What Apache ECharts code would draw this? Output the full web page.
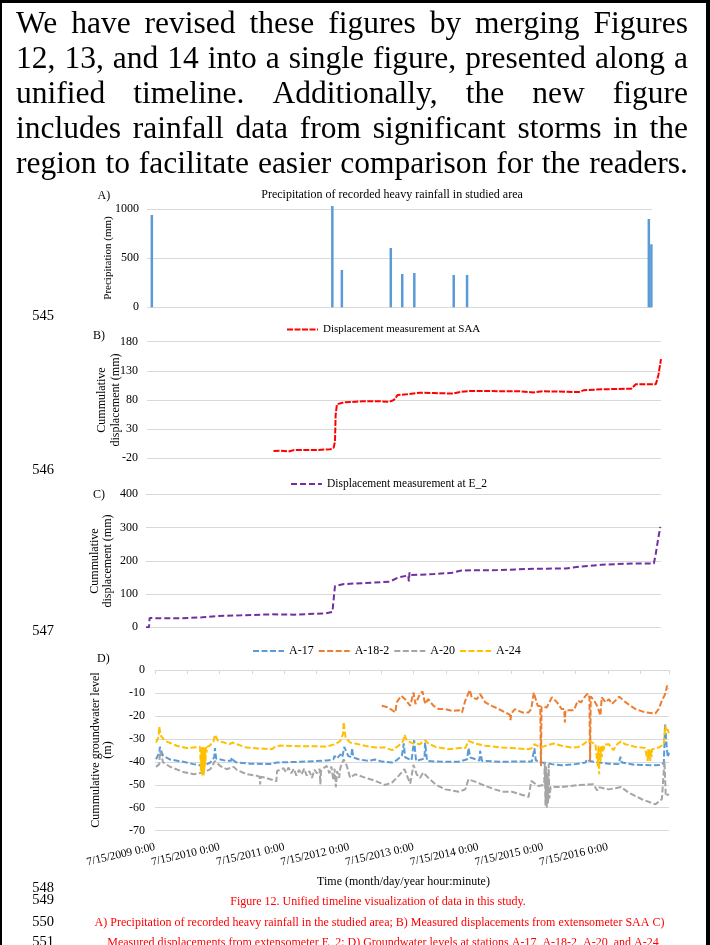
<!DOCTYPE html>
<html>
<head>
<meta charset="utf-8">
<title>Figure 12 - unified timeline</title>
<script src="https://cdn.jsdelivr.net/npm/echarts@6/dist/echarts.min.js"></script>
<style>
  body { margin: 0; background: #fff; }
  #page { position: relative; width: 710px; height: 945px; overflow: hidden; background: #fff; }
  #main { position: absolute; left: 0; top: 0; width: 710px; height: 945px; }
  #para { position: absolute; left: 16px; top: 5px; width: 672px; color: #000;
          font-family: 'Liberation Serif', 'Times New Roman', serif; font-size: 31.5px; line-height: 35px; }
  #para .ln { display: flex; justify-content: space-between; white-space: nowrap; height: 35px; }
  .frame { position: absolute; background: #000; }
</style>
</head>
<body>
<div id="page">
  <div id="main"></div>
  <div id="para"></div>
  <div class="frame" style="left:0;top:0;width:2px;height:945px"></div>
  <div class="frame" style="left:0;top:0;width:710px;height:3px"></div>
  <div class="frame" style="left:706px;top:0;width:4px;height:945px"></div>
</div>
<script>
var SERIF = '"Liberation Serif", "Times New Roman", serif';

// timeline in decimal years, 7/15/2009 .. mid 2017
var X_MIN = 2009.534;
var X_MAX = 2017.48;

var paragraphLines = [
    'We have revised these figures by merging Figures',
    '12, 13, and 14 into a single figure, presented along a',
    'unified timeline. Additionally, the new figure',
    'includes rainfall data from significant storms in the',
    'region to facilitate easier comparison for the readers.'
];

var tickLabels = ['7/15/2009 0:00', '7/15/2010 0:00', '7/15/2011 0:00', '7/15/2012 0:00',
    '7/15/2013 0:00', '7/15/2014 0:00', '7/15/2015 0:00', '7/15/2016 0:00'];

// A) heavy rainfall events [year, mm]
var rainEvents = [[2009.61, 942], [2012.45, 1034], [2012.60, 381], [2013.37, 605], [2013.55, 340],
    [2013.74, 350], [2014.36, 330], [2014.57, 330], [2017.43, 901], [2017.47, 643]];

// B) SAA cumulative displacement (mm)
var saaDisp = [[2011.49, -7.4], [2011.60, -7], [2011.74, -8], [2011.80, -6], [2011.88, -5.7], [2012.16, -5.7],
    [2012.37, -4.6], [2012.42, -1.7], [2012.44, 8.6], [2012.45, 54], [2012.47, 72.6], [2012.50, 75], [2012.58, 76],
    [2012.86, 77.7], [2013.10, 78], [2013.28, 77], [2013.35, 80], [2013.41, 88.6], [2013.55, 89.7], [2013.76, 92.6],
    [2013.97, 92], [2014.25, 91], [2014.39, 94], [2014.53, 95.4], [2015.30, 95], [2015.51, 93], [2015.65, 95],
    [2016.21, 93.7], [2016.28, 96.6], [2016.56, 98.3], [2017.02, 99.4], [2017.09, 107], [2017.40, 107],
    [2017.44, 123], [2017.48, 150]];

// C) E_2 cumulative displacement (mm)
var e2Disp = [[2009.534, 0], [2009.58, 0], [2009.59, 28], [2009.80, 27], [2010.08, 27], [2010.40, 30], [2010.64, 34],
    [2011.00, 36], [2011.47, 39], [2011.82, 38], [2012.31, 42], [2012.41, 46], [2012.45, 124], [2012.59, 130],
    [2012.90, 133], [2013.29, 137], [2013.43, 150], [2013.58, 156], [2013.59, 138], [2013.60, 165], [2013.61, 157],
    [2013.98, 160], [2014.26, 164], [2014.40, 171], [2014.96, 172], [2015.52, 176], [2016.01, 177], [2016.22, 182],
    [2016.56, 188], [2017.05, 192], [2017.37, 192], [2017.40, 222], [2017.44, 270], [2017.47, 302]];

// D) groundwater levels (m)
var gwA17 = [[2009.55, -38.9], [2009.60, -36], [2009.61, -33.5], [2009.64, -36], [2009.66, -37.4], [2009.77, -39],
    [2009.97, -40], [2010.13, -41], [2010.28, -41.8], [2010.39, -40.3], [2010.45, -38], [2010.46, -34], [2010.48, -38.6],
    [2010.64, -39.6], [2010.71, -39.5], [2010.72, -38.1], [2010.75, -39.5], [2010.80, -40.3], [2011.00, -40.8],
    [2011.31, -41], [2011.42, -40.3], [2011.78, -40], [2012.19, -39.4], [2012.29, -39], [2012.31, -37.4],
    [2012.35, -38.5], [2012.40, -36.7], [2012.43, -38], [2012.46, -33.5], [2012.48, -34], [2012.52, -37.4],
    [2012.57, -38], [2012.58, -34], [2012.60, -38.1], [2012.68, -38.9], [2012.83, -39.6], [2012.94, -39],
    [2013.04, -39.9], [2013.20, -40.3], [2013.27, -39.3], [2013.35, -37.4], [2013.38, -32], [2013.40, -38],
    [2013.50, -39.3], [2013.53, -38.5], [2013.54, -30.6], [2013.57, -39.6], [2013.66, -38.9], [2013.70, -38.5],
    [2013.71, -31.6], [2013.74, -39.6], [2013.87, -39.9], [2014.23, -40], [2014.36, -38.9], [2014.38, -34],
    [2014.41, -38.1], [2014.55, -39.5], [2014.56, -35.2], [2014.59, -39.6], [2014.90, -40], [2015.05, -39.9],
    [2015.36, -39.9], [2015.40, -34.1], [2015.42, -39.3], [2015.52, -40.3], [2015.67, -41], [2015.82, -41.5],
    [2016.03, -41], [2016.19, -40.3], [2016.21, -38.9], [2016.25, -39.6], [2016.40, -40.3], [2016.55, -40.8],
    [2016.70, -41], [2016.73, -37.8], [2016.75, -40.3], [2016.96, -41.3], [2017.22, -41.5], [2017.37, -41.3],
    [2017.40, -40.3], [2017.42, -23.3], [2017.44, -32], [2017.46, -38], [2017.48, -36]];

var gwA182 = [[2013.04, -15.6], [2013.14, -16.3], [2013.25, -18.5], [2013.27, -14.1], [2013.34, -11.2],
    [2013.40, -12.7], [2013.48, -15.6], [2013.53, -9.8], [2013.56, -14.8], [2013.63, -10.5], [2013.67, -9.3],
    [2013.71, -14.8], [2013.76, -12.7], [2013.84, -15.6], [2013.92, -17], [2014.02, -17], [2014.12, -17.8],
    [2014.23, -17.5], [2014.28, -18.5], [2014.33, -13.4], [2014.40, -8.7], [2014.43, -11.9], [2014.51, -12.7],
    [2014.56, -10.5], [2014.64, -14.1], [2014.74, -15.6], [2014.85, -17], [2014.95, -18.5], [2015.02, -19.5],
    [2015.03, -21.8], [2015.04, -19], [2015.10, -17], [2015.21, -18.5], [2015.31, -18.5], [2015.35, -17],
    [2015.39, -9.8], [2015.42, -12.7], [2015.45, -15.6], [2015.49, -15.8], [2015.50, -41.8], [2015.51, -16],
    [2015.52, -16.3], [2015.59, -16.3], [2015.67, -11.9], [2015.75, -14.1], [2015.82, -17], [2015.86, -17],
    [2015.87, -22.9], [2015.88, -17.5], [2015.90, -17.5], [2016.01, -17.5], [2016.07, -13.4], [2016.12, -14.1],
    [2016.19, -11.2], [2016.23, -10.2], [2016.25, -11.9], [2016.26, -39.6], [2016.27, -11.5], [2016.29, -11.2],
    [2016.34, -14.1], [2016.38, -16.3], [2016.42, -19.9], [2016.44, -11.9], [2016.50, -14.1], [2016.55, -12.7],
    [2016.60, -14.8], [2016.71, -11.6], [2016.78, -13.4], [2016.86, -15.1], [2016.96, -17], [2017.11, -18.5],
    [2017.27, -18.9], [2017.32, -17], [2017.37, -13.4], [2017.42, -10.5], [2017.45, -6.8], [2017.47, -8.3]];

var gwA20 = [[2009.55, -42.2], [2009.60, -41], [2009.61, -35.2], [2009.66, -40.3], [2009.77, -42.2], [2009.97, -44.4],
    [2010.13, -45.4], [2010.28, -44.7], [2010.39, -43.2], [2010.46, -39.6], [2010.54, -41.8], [2010.64, -43.2],
    [2010.75, -42.2], [2010.80, -43.5], [2010.95, -45.4], [2011.11, -46.1], [2011.15, -46.5], [2011.16, -49.8],
    [2011.17, -46.5], [2011.24, -46.9], [2011.36, -48], [2011.41, -48.5], [2011.42, -44], [2011.52, -42.8],
    [2011.56, -44.5], [2011.60, -42.5], [2011.64, -45], [2011.68, -43], [2011.72, -46], [2011.76, -43.5],
    [2011.80, -45.5], [2011.84, -43], [2011.88, -46], [2011.92, -44], [2011.96, -47], [2012.00, -43.5],
    [2012.04, -45], [2012.08, -43], [2012.09, -49.8], [2012.10, -44], [2012.15, -42.5], [2012.19, -41.8],
    [2012.23, -45], [2012.26, -42], [2012.29, -48], [2012.31, -43], [2012.33, -51], [2012.35, -44], [2012.38, -47],
    [2012.40, -42.5], [2012.45, -38.9], [2012.48, -39.6], [2012.50, -41.8], [2012.55, -46.9], [2012.63, -45.4],
    [2012.78, -46.9], [2012.94, -48.3], [2013.09, -50.1], [2013.20, -49], [2013.30, -46.1], [2013.39, -43.2],
    [2013.43, -46], [2013.48, -49.5], [2013.53, -41.3], [2013.58, -45.5], [2013.63, -47], [2013.68, -44.7],
    [2013.76, -47], [2013.87, -49.8], [2014.02, -52], [2014.23, -53], [2014.33, -52], [2014.38, -47.6],
    [2014.48, -48.6], [2014.64, -50.5], [2014.79, -52], [2014.90, -53], [2015.05, -53], [2015.31, -55.3],
    [2015.35, -48.3], [2015.46, -50.5], [2015.55, -50], [2015.56, -40], [2015.57, -59], [2015.58, -42],
    [2015.59, -60], [2015.60, -45], [2015.61, -58], [2015.62, -41], [2015.63, -56], [2015.65, -51],
    [2015.67, -51.2], [2015.82, -51], [2016.08, -50.1], [2016.31, -49.8], [2016.37, -52.5], [2016.39, -51],
    [2016.55, -52], [2016.74, -51], [2016.86, -53.5], [2017.06, -56.3], [2017.27, -58.5], [2017.37, -56.3],
    [2017.40, -56], [2017.41, -39.6], [2017.43, -54.9], [2017.48, -54]];

var gwA24 = [[2009.55, -31.6], [2009.59, -29], [2009.60, -24.6], [2009.62, -28.5], [2009.69, -30.9], [2009.87, -33],
    [2010.02, -34], [2010.23, -33.5], [2010.245, -44], [2010.25, -34], [2010.255, -45], [2010.26, -33.5],
    [2010.265, -46], [2010.27, -34], [2010.275, -45.5], [2010.28, -33.5], [2010.285, -46], [2010.29, -34],
    [2010.295, -44], [2010.30, -33.5], [2010.305, -42], [2010.31, -34], [2010.315, -40], [2010.32, -33.5],
    [2010.33, -36], [2010.34, -33.5], [2010.38, -33], [2010.44, -31], [2010.46, -28.2], [2010.51, -30.9],
    [2010.69, -32.3], [2010.73, -31.6], [2010.95, -33.8], [2011.16, -34.2], [2011.34, -34.5], [2011.39, -33.5],
    [2011.47, -32.9], [2011.78, -33.2], [2012.19, -33.3], [2012.32, -32.3], [2012.40, -30.9], [2012.44, -28],
    [2012.45, -22.6], [2012.48, -29.4], [2012.55, -31.6], [2012.63, -32], [2012.78, -33], [2012.94, -33.8],
    [2013.09, -33.8], [2013.20, -34.9], [2013.30, -33], [2013.37, -31], [2013.39, -28.2], [2013.43, -30.9],
    [2013.53, -32], [2013.63, -32.3], [2013.71, -30.6], [2013.76, -32], [2013.87, -33.5], [2014.07, -34.5],
    [2014.23, -34], [2014.33, -34], [2014.38, -30.9], [2014.48, -32], [2014.64, -33], [2014.90, -33.8],
    [2015.05, -34], [2015.31, -34.5], [2015.36, -34], [2015.40, -32.3], [2015.44, -33], [2015.52, -33.5],
    [2015.62, -32.6], [2015.70, -32], [2015.82, -33], [2015.98, -33.8], [2016.08, -33.5], [2016.16, -32.3],
    [2016.23, -30.6], [2016.29, -31.6], [2016.34, -32], [2016.37, -32], [2016.38, -42], [2016.39, -33],
    [2016.40, -45.4], [2016.41, -34], [2016.42, -40], [2016.43, -33], [2016.44, -38], [2016.46, -33],
    [2016.47, -35], [2016.48, -32.5], [2016.55, -32.3], [2016.62, -34.9], [2016.68, -32.3], [2016.74, -31.1],
    [2016.80, -32.3], [2016.96, -33.5], [2017.11, -34], [2017.14, -34], [2017.15, -39.6], [2017.16, -34.5],
    [2017.17, -39], [2017.18, -34.5], [2017.19, -39.6], [2017.20, -35], [2017.21, -38], [2017.22, -34.5],
    [2017.24, -34.5], [2017.32, -33.8], [2017.40, -32.3], [2017.42, -24.3], [2017.44, -27], [2017.46, -25.8],
    [2017.48, -28]];

// paragraph above the figure, one justified row per line
var para = document.getElementById('para');
paragraphLines.forEach(function (line) {
    var row = document.createElement('div');
    row.className = 'ln';
    line.split(' ').forEach(function (word) {
        var span = document.createElement('span');
        span.textContent = word;
        row.appendChild(span);
    });
    para.appendChild(row);
});

function hiddenTimeAxis(grid) {
    return { type: 'value', gridIndex: grid, min: X_MIN, max: X_MAX, show: false, splitLine: { show: false } };
}

function valueAxis(grid, min, max, interval, margin) {
    return {
        type: 'value', gridIndex: grid, min: min, max: max, interval: interval,
        axisLine: { show: false }, axisTick: { show: false },
        axisLabel: {
            margin: margin, color: '#000', fontFamily: SERIF, fontSize: 12,
            formatter: function (v) { return String(v); }
        },
        splitLine: { lineStyle: { color: '#d9d9d9', width: 1 } }
    };
}

function lineSeries(name, axis, data, color, width, dash) {
    return {
        name: name, type: 'line', xAxisIndex: axis, yAxisIndex: axis, data: data,
        symbol: 'none', showSymbol: false,
        lineStyle: { color: color, width: width, type: dash },
        itemStyle: { color: color }
    };
}

function txt(text, x, y, opt) {
    opt = opt || {};
    return {
        type: 'text', x: x, y: y, rotation: opt.rotation || 0, silent: true,
        style: {
            text: text, fill: opt.color || '#000',
            font: (opt.size || 12) + 'px ' + SERIF,
            align: opt.align || 'left', verticalAlign: 'middle',
            lineHeight: opt.lineHeight || undefined
        }
    };
}

function legendBox(names, left, top, size, gap) {
    return {
        data: names, left: left, top: top, padding: 0,
        itemWidth: 31, itemHeight: 12, itemGap: gap || 10,
        itemStyle: { opacity: 0 },          // dashed line only, no marker
        textStyle: { fontFamily: SERIF, color: '#000', fontSize: size }
    };
}

var myChart = echarts.init(document.getElementById('main'), null, { renderer: 'canvas' });
myChart.setOption({
    animation: false,
    backgroundColor: 'transparent',
    grid: [
        { left: 147, top: 209.3, width: 505, height: 98 },
        { left: 147, top: 341.7, width: 514, height: 116.6 },
        { left: 146, top: 494.3, width: 515, height: 133 },
        { left: 155, top: 670, width: 514, height: 160.7 }
    ],
    xAxis: [
        hiddenTimeAxis(0), hiddenTimeAxis(1), hiddenTimeAxis(2),
        {
            type: 'value', gridIndex: 3, position: 'top', min: X_MIN, max: X_MAX, interval: 0.5,
            axisLine: { show: true, onZero: false, lineStyle: { color: '#d9d9d9', width: 1 } },
            axisTick: { show: true, inside: true, length: 4, lineStyle: { color: '#d9d9d9' } },
            axisLabel: { show: false }, splitLine: { show: false }
        },
        {
            type: 'value', gridIndex: 3, position: 'bottom', min: X_MIN, max: X_MAX, interval: 0.5,
            axisLine: { show: false, onZero: false }, axisTick: { show: false }, splitLine: { show: false },
            axisLabel: {
                rotate: 13, margin: 16, color: '#000', fontFamily: SERIF, fontSize: 11.5,
                formatter: function (v) {
                    var k = (v - X_MIN) * 2;
                    var n = Math.round(k);
                    if (Math.abs(k - n) > 0.05 || n % 2) return '';
                    return tickLabels[n / 2] || '';
                }
            }
        }
    ],
    yAxis: [
        valueAxis(0, 0, 1000, 500, 8),
        valueAxis(1, -20, 180, 50, 9),
        valueAxis(2, 0, 400, 100, 8),
        valueAxis(3, -70, 0, 10, 10)
    ],
    legend: [
        legendBox(['Displacement measurement at SAA'], 286, 324, 11),
        legendBox(['Displacement measurement at E_2'], 290, 478, 11.5),
        legendBox(['A-17', 'A-18-2', 'A-20', 'A-24'], 252, 645, 12, 4)
    ],
    series: [
        { type: 'bar', xAxisIndex: 0, yAxisIndex: 0, data: rainEvents, barWidth: 2.5, clip: false,
          itemStyle: { color: '#5b9bd5' } },
        lineSeries('Displacement measurement at SAA', 1, saaDisp, '#ff0000', 2, [6, 1.5]),
        lineSeries('Displacement measurement at E_2', 2, e2Disp, '#7030a0', 2, [6, 3]),
        lineSeries('A-17', 3, gwA17, '#5b9bd5', 2, [6, 2.5]),
        lineSeries('A-18-2', 3, gwA182, '#ed7d31', 2, [6, 2.5]),
        lineSeries('A-20', 3, gwA20, '#a5a5a5', 2, [6, 2.5]),
        lineSeries('A-24', 3, gwA24, '#ffc000', 2, [6, 2.5])
    ],
    graphic: [
        txt('Precipitation of recorded heavy rainfall in studied area', 392, 195, { align: 'center' }),
        txt('A)', 97.5, 196), txt('B)', 93, 336), txt('C)', 93, 495), txt('D)', 97, 659),
        txt('Precipitation (mm)', 108, 258, { align: 'center', rotation: Math.PI / 2, size: 11 }),
        txt('Cummulative\ndisplacement (mm)', 109, 400, { align: 'center', rotation: Math.PI / 2, lineHeight: 14 }),
        txt('Cummulative\ndisplacement (mm)', 101.5, 561, { align: 'center', rotation: Math.PI / 2, lineHeight: 13 }),
        txt('Cummulative groundwater level\n(m)', 102, 750, { align: 'center', rotation: Math.PI / 2, lineHeight: 12.5 }),
        txt('Time (month/day/year hour:minute)', 403.5, 882, { align: 'center' }),
        txt('545', 54, 316, { align: 'right', size: 14.5 }),
        txt('546', 54, 470, { align: 'right', size: 14.5 }),
        txt('547', 54, 631.5, { align: 'right', size: 14.5 }),
        txt('548', 54, 888, { align: 'right', size: 14.5 }),
        txt('549', 54, 900, { align: 'right', size: 14.5 }),
        txt('550', 54, 921.7, { align: 'right', size: 14.5 }),
        txt('551', 54, 942, { align: 'right', size: 14.5 }),
        txt('Figure 12. Unified timeline visualization of data in this study.', 378, 901.7,
            { align: 'center', color: '#ff0000' }),
        txt('A) Precipitation of recorded heavy rainfall in the studied area; B) Measured displacements from extensometer SAA C)',
            379.5, 922.7, { align: 'center', color: '#ff0000' }),
        txt('Measured displacements from extensometer E_2; D) Groundwater levels at stations A-17, A-18-2, A-20, and A-24',
            383, 942.5, { align: 'center', color: '#ff0000' })
    ]
});
</script>
</body>
</html>
